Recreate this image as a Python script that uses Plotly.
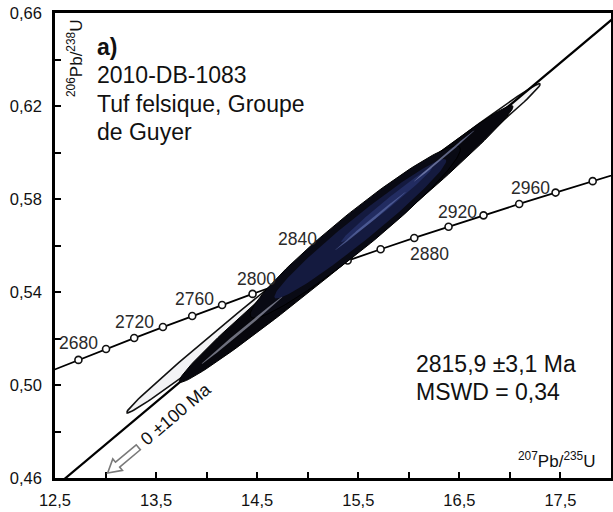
import numpy as np
import plotly.graph_objects as go

# ---------------- data ----------------
LAMBDA_238 = 1.55125e-10   # /yr
LAMBDA_235 = 9.8485e-10    # /yr

concordia_line_ages = [2640, 2660, 2680, 2700, 2720, 2740, 2760, 2780, 2800, 2820,
                       2840, 2860, 2880, 2900, 2920, 2940, 2960, 2980, 3000]
concordia_marker_ages = [2660, 2680, 2700, 2720, 2740, 2760, 2780, 2800, 2820,
                         2840, 2860, 2880, 2900, 2920, 2940, 2960, 2980]
label_ages = [2680, 2720, 2760, 2800, 2840, 2880, 2920, 2960]

upper_intercept = 2815.9   # Ma
lower_intercept = 0.0      # Ma

# error ellipses: centre, half-extent, correlation
ell_name = ["L", "D1", "D2", "N1", "N2", "H1", "H2", "H3"]
ell_x    = [15.255, 15.38, 15.47, 15.52, 15.78, 15.62, 16.35, 14.35]
ell_sx   = [2.045, 1.65, 1.04, 0.85, 0.45, 0.35, 0.30, 0.40]
ell_y    = [0.5588, 0.5607, 0.5658, 0.5672, 0.5775, 0.5705, 0.5985, 0.5235]
ell_sy   = [0.0708, 0.0595, 0.037, 0.030, 0.016, 0.0125, 0.011, 0.0145]
ell_rho  = [0.997, 0.9912, 0.962, 0.975, 0.99, 0.9985, 0.9985, 0.9985]

x_tickvals = [12.5, 13.0, 13.5, 14.0, 14.5, 15.0, 15.5, 16.0, 16.5, 17.0, 17.5, 18.0]
x_ticktext = ["12,5", "", "13,5", "", "14,5", "", "15,5", "", "16,5", "", "17,5", ""]
y_tickvals = [0.46, 0.48, 0.50, 0.52, 0.54, 0.56, 0.58, 0.60, 0.62, 0.64, 0.66]
y_ticktext = ["0,46", "", "0,50", "", "0,54", "", "0,58", "", "0,62", "", "0,66"]

# ---------------- styles ----------------
ell_fill = ["#f3f3f5", "#07070d", "#090a14", "#161c44", "#26316a", "#6372ae", "#98a2cf", "#c2c6dc"]
ell_line = ["#111111", "#000000", "#000000", "rgba(0,0,0,0)", "rgba(0,0,0,0)",
            "rgba(0,0,0,0)", "rgba(0,0,0,0)", "rgba(0,0,0,0)"]
ell_lw = [1.6, 1.0, 1.0, 0, 0, 0, 0, 0]
ell_op = [1, 1, 1, 0.9, 0.8, 0.65, 0.6, 0.55]

label_dx = [-28, -28, -28, -27, -50, 15, -26, -25]
label_dy = [6, 5, 6, 4, 21, -16, 3, 5]

X_RANGE = [12.5, 18.0]
Y_RANGE = [0.46, 0.66]
FONT = "Liberation Sans, Arial, sans-serif"


def ratios(age_ma):
    t = np.asarray(age_ma, dtype=float) * 1e6
    return np.exp(LAMBDA_235 * t) - 1, np.exp(LAMBDA_238 * t) - 1


def ellipse(cx, sx, cy, sy, rho, n=160):
    th = np.linspace(0, 2 * np.pi, n)
    xs = cx + sx * np.cos(th)
    ys = cy + sy * (rho * np.cos(th) + np.sqrt(1 - rho ** 2) * np.sin(th))
    return xs, ys


fig = go.Figure()


def add_ellipse(i):
    xs, ys = ellipse(ell_x[i], ell_sx[i], ell_y[i], ell_sy[i], ell_rho[i])
    fig.add_trace(go.Scatter(x=xs, y=ys, mode="lines", fill="toself",
                             fillcolor=ell_fill[i], opacity=ell_op[i],
                             line=dict(color=ell_line[i], width=ell_lw[i]),
                             hoverinfo="skip", showlegend=False))

add_ellipse(0)

# discordia
ux, uy = ratios([upper_intercept])
lx, ly = ratios([lower_intercept])
slope = (uy[0] - ly[0]) / (ux[0] - lx[0])
dis_x = [lx[0], ux[0], 19.0]
dis_y = [ly[0], uy[0], ly[0] + slope * (19.0 - lx[0])]
fig.add_trace(go.Scatter(x=dis_x, y=dis_y, mode="lines",
                         line=dict(color="#000", width=2.2),
                         hoverinfo="skip", showlegend=False))

# concordia
cx_line, cy_line = ratios(concordia_line_ages)
fig.add_trace(go.Scatter(x=cx_line, y=cy_line, mode="lines",
                         line=dict(color="#000", width=1.8),
                         hoverinfo="skip", showlegend=False))
cx_m, cy_m = ratios(concordia_marker_ages)
fig.add_trace(go.Scatter(x=cx_m, y=cy_m, mode="markers",
                         marker=dict(symbol="circle", size=7, color="white",
                                     line=dict(color="#111", width=1.6)),
                         hoverinfo="skip", showlegend=False))

# dark ellipses
for i in range(1, len(ell_name)):
    add_ellipse(i)

annotations = []
lab_x, lab_y = ratios(label_ages)
for a, x, y, dx, dy in zip(label_ages, lab_x, lab_y, label_dx, label_dy):
    annotations.append(dict(x=x, y=y, xref="x", yref="y", text=str(a), showarrow=False,
                            xshift=dx, yshift=dy, font=dict(size=17.5, color="#2a2a2a", family=FONT)))

W, H = 613, 512
ML, MR, MT, MB = 55, 2, 13, 34
PW, PH = W - ML - MR, H - MT - MB


def px(x, y):
    return (x - ML) / PW, (H - MB - y) / PH


def add_text(text, x, y, size, xanchor="left", yanchor="middle", angle=0, color="#111"):
    xp, yp = px(x, y)
    annotations.append(dict(x=xp, y=yp, xref="paper", yref="paper", text=text,
                            showarrow=False, xanchor=xanchor, yanchor=yanchor,
                            textangle=angle, font=dict(size=size, color=color, family=FONT)))

add_text("<b>a)</b>", 95, 47, 23)
add_text("2010-DB-1083", 95, 75, 23)
add_text("Tuf felsique, Groupe", 95, 104, 23)
add_text("de Guyer", 95, 132, 23)
add_text("2815,9 ±3,1 Ma", 414, 364, 23)
add_text("MSWD = 0,34", 414, 392, 23)
add_text("<sup>207</sup>Pb/<sup>235</sup>U", 598, 460, 17, xanchor="right")
add_text("<sup>206</sup>Pb/<sup>238</sup>U", 75, 58, 17, xanchor="center", angle=-90)
add_text("0 ±100 Ma", 176, 414, 18, xanchor="center", angle=-40)

# hollow arrow toward the lower intercept
ax0 = Y_RANGE[0] / slope
ang = np.arctan(slope * (PH / (Y_RANGE[1] - Y_RANGE[0])) / (PW / (X_RANGE[1] - X_RANGE[0])))
u = np.array([np.cos(ang), np.sin(ang)])
nvec = np.array([-np.sin(ang), np.cos(ang)])
tip = np.array([42.0, 5.0])
pts = [tip, tip + 13 * u + 7.5 * nvec, tip + 13 * u + 3.2 * nvec, tip + 40 * u + 3.2 * nvec,
       tip + 40 * u - 3.2 * nvec, tip + 13 * u - 3.2 * nvec, tip + 13 * u - 7.5 * nvec]
path = "M " + " L ".join(f"{p[0]:.2f},{p[1]:.2f}" for p in pts) + " Z"

axis_common = dict(showgrid=False, zeroline=False, showline=True, mirror=True,
                   linecolor="#000", linewidth=2.6, ticks="inside", ticklen=6, tickwidth=2,
                   tickcolor="#000", automargin=False,
                   tickfont=dict(size=16.5, color="#111", family=FONT))

fig.update_layout(
    width=W, height=H,
    margin=dict(l=ML, r=MR, t=MT, b=MB, autoexpand=False),
    paper_bgcolor="white", plot_bgcolor="white",
    showlegend=False,
    annotations=annotations,
    shapes=[dict(type="path", xref="x", yref="y", xsizemode="pixel", ysizemode="pixel",
                 xanchor=ax0, yanchor=Y_RANGE[0], path=path,
                 fillcolor="white", line=dict(color="#7a7a7a", width=1.6))],
    xaxis=dict(range=X_RANGE, tickvals=x_tickvals, ticktext=x_ticktext,
               ticklabelstandoff=5, **axis_common),
    yaxis=dict(range=Y_RANGE, tickvals=y_tickvals, ticktext=y_ticktext,
               ticklabelstandoff=7, **axis_common),
)

# remove the browser's default 8px page margin so the figure sits at the window's corner
fig.write_html("out.html", config={"displayModeBar": False},
               post_script="document.body.style.margin='0';")
